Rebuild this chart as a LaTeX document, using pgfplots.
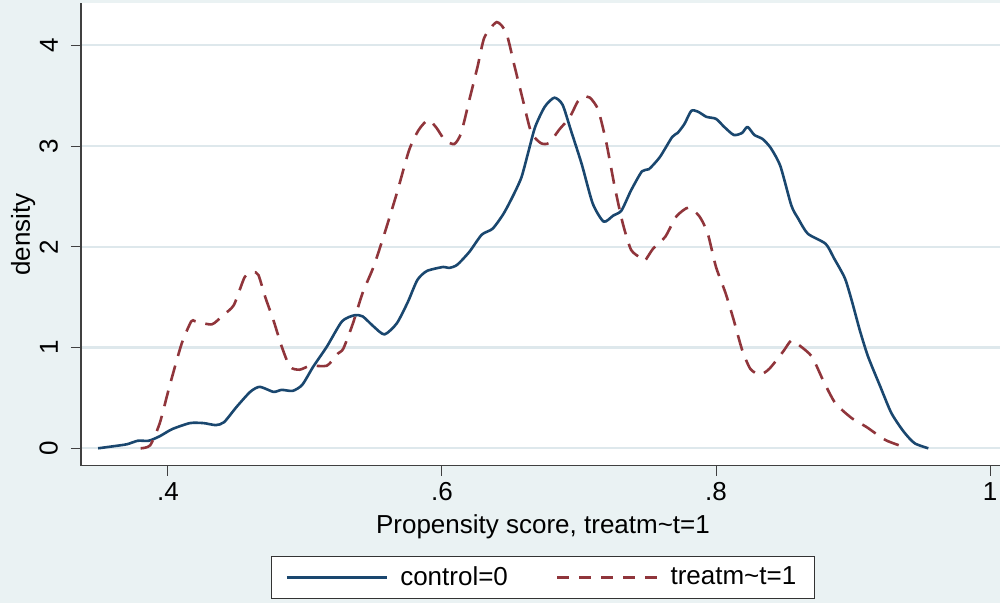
\documentclass[border=0pt]{standalone}
\usepackage{fontspec}
\setmainfont{Liberation Sans}
\usepackage{pgfplots}
\pgfplotsset{compat=1.18}
\definecolor{bg}{RGB}{234,242,243}
\definecolor{gridc}{RGB}{222,232,236}
\definecolor{navy}{RGB}{26,71,111}
\definecolor{maroon}{RGB}{144,53,59}
\pgfplotstableread{
x y
0.349 0.00
0.360 0.02
0.370 0.04
0.378 0.075
0.386 0.075
0.394 0.12
0.403 0.19
0.416 0.25
0.426 0.25
0.435 0.23
0.441 0.26
0.450 0.41
0.460 0.56
0.467 0.61
0.477 0.56
0.483 0.58
0.491 0.57
0.498 0.63
0.506 0.81
0.516 1.01
0.527 1.26
0.536 1.32
0.542 1.31
0.550 1.21
0.558 1.13
0.567 1.24
0.575 1.45
0.582 1.67
0.589 1.76
0.601 1.80
0.605 1.79
0.611 1.82
0.620 1.95
0.629 2.12
0.637 2.18
0.645 2.33
0.652 2.51
0.658 2.69
0.663 2.94
0.668 3.19
0.675 3.39
0.682 3.48
0.688 3.41
0.694 3.16
0.702 2.82
0.710 2.43
0.718 2.25
0.725 2.31
0.731 2.36
0.738 2.56
0.746 2.75
0.751 2.77
0.759 2.89
0.768 3.09
0.772 3.13
0.777 3.22
0.782 3.35
0.787 3.34
0.793 3.29
0.800 3.27
0.806 3.19
0.813 3.11
0.819 3.13
0.823 3.19
0.828 3.11
0.834 3.07
0.840 2.98
0.847 2.80
0.855 2.41
0.860 2.28
0.867 2.13
0.880 2.03
0.886 1.89
0.894 1.69
0.899 1.47
0.905 1.17
0.911 0.91
0.920 0.61
0.928 0.35
0.937 0.165
0.945 0.05
0.955 0.00
}\control
\pgfplotstableread{
x y
0.380 0.00
0.387 0.03
0.394 0.25
0.401 0.61
0.410 1.04
0.417 1.26
0.420 1.26
0.432 1.23
0.440 1.32
0.448 1.42
0.456 1.70
0.462 1.75
0.466 1.72
0.471 1.50
0.477 1.27
0.483 1.01
0.489 0.81
0.496 0.78
0.504 0.82
0.516 0.82
0.524 0.94
0.528 0.99
0.535 1.24
0.542 1.54
0.550 1.80
0.558 2.13
0.567 2.53
0.576 2.96
0.583 3.16
0.590 3.26
0.596 3.18
0.602 3.06
0.609 3.02
0.614 3.13
0.620 3.46
0.626 3.79
0.631 4.08
0.640 4.23
0.647 4.12
0.653 3.79
0.659 3.46
0.665 3.14
0.672 3.03
0.678 3.03
0.686 3.17
0.693 3.28
0.699 3.44
0.703 3.49
0.708 3.48
0.714 3.36
0.720 3.03
0.726 2.60
0.732 2.23
0.738 1.97
0.745 1.89
0.748 1.86
0.754 1.98
0.763 2.10
0.771 2.30
0.780 2.39
0.788 2.30
0.794 2.13
0.800 1.80
0.807 1.54
0.813 1.27
0.819 0.98
0.825 0.79
0.832 0.73
0.839 0.79
0.849 0.96
0.855 1.07
0.861 1.02
0.870 0.91
0.878 0.68
0.887 0.45
0.899 0.30
0.910 0.21
0.924 0.08
0.940 0.00
}\treated
\begin{document}
\begin{tikzpicture}
\useasboundingbox (0,0) rectangle (500pt,301.5pt);
\fill[bg] (0,0) rectangle (500pt,301.5pt);
\begin{axis}[
  at={(40.5pt,68.65pt)}, anchor=south west,
  scale only axis, width=459.5pt, height=231.35pt,
  xmin=0.3365, xmax=1.0073, ymin=-0.1727, ymax=4.42,
  axis background/.style={fill=white},
  axis lines*=left,
  axis line style={-, black!75, line width=0.6pt},
  xtick={0.4,0.6,0.8,1}, xticklabels={.4,.6,.8,1},
  ytick={0,1,2,3,4},
  tick align=outside, major tick length=5pt,
  tick style={black!75, line width=0.5pt},
  ymajorgrids, grid style={gridc, line width=1.2pt},
  /pgf/number format/assume math mode=true,
  tick label style={font=\fontsize{13}{15}\selectfont},
  yticklabel style={rotate=90, anchor=south},
  yticklabel shift=3pt,
  xlabel={Propensity score, treatm\textasciitilde t=1},
  xlabel style={at={(axis description cs:0.5027,-0.1455)}, anchor=base, font=\fontsize{13}{15}\selectfont},
  ylabel={density},
  ylabel style={at={(axis description cs:-0.0555,0.5)}, anchor=base, font=\fontsize{13}{15}\selectfont},
  legend columns=2,
  legend cell align=left,
  legend style={at={(axis description cs:0.5027,-0.2413)}, anchor=center,
    draw=black!80, fill=white, line width=0.5pt,
    font=\fontsize{13}{15}\selectfont, inner xsep=7pt, inner ysep=3.2pt,
    /tikz/every odd column/.append style={column sep=4pt},
    /tikz/every even column/.append style={column sep=22pt}},
  legend image code/.code={\draw[#1] (0pt,0pt) -- (50pt,0pt);},
]
\addplot[navy, line width=1.3pt, smooth, tension=0.4, line join=round] table[x=x,y=y] {\control};
\addlegendentry{control=0}
\addplot[maroon, line width=1.3pt, smooth, tension=0.4, dash pattern=on 8pt off 5pt,
  legend image code/.code={\draw[maroon, line width=1.3pt, dash pattern=on 6pt off 5pt] (0pt,0pt) -- (50pt,0pt);}] table[x=x,y=y] {\treated};
\addlegendentry{treatm\textasciitilde t=1}
\end{axis}
\end{tikzpicture}
\end{document}
